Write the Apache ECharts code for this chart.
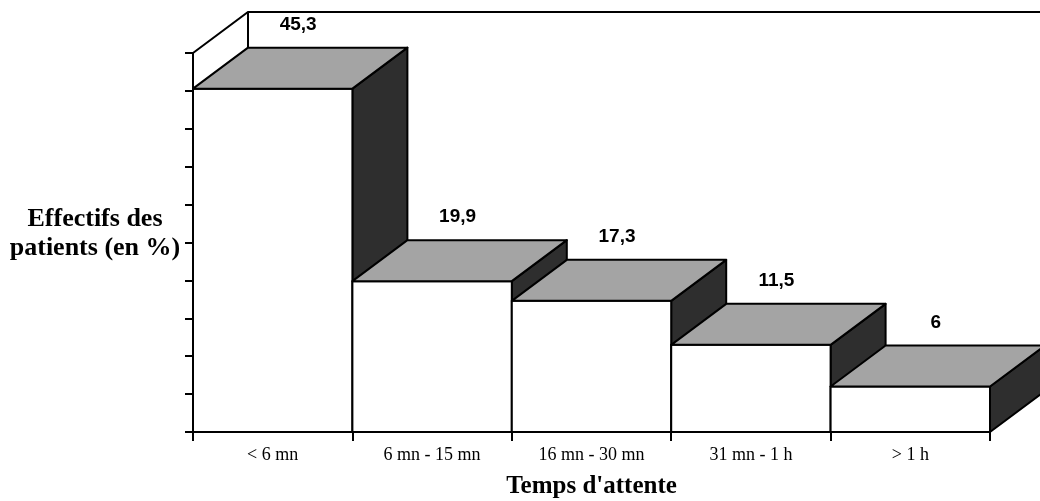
<!DOCTYPE html>
<html>
<head>
<meta charset="utf-8">
<script src="https://cdn.jsdelivr.net/npm/echarts@6/dist/echarts.min.js"></script>
<style>html,body{margin:0;padding:0;background:#fff;}#c{width:1040px;height:501px;}</style>
</head>
<body>
<div id="c"></div>
<script>
const categories = ['< 6 mn', '6 mn - 15 mn', '16 mn - 30 mn', '31 mn - 1 h', '> 1 h'];
const values = [45.3, 19.9, 17.3, 11.5, 6];
const yMin = 0, yMax = 50, yInterval = 5;

const DX = 55, DY = -41;
const LINE = '#000';
const TOP_FILL = '#a4a4a4';
const SIDE_FILL = '#2e2e2e';
const SERIF = '"Liberation Serif", "Times New Roman", serif';

const chart = echarts.init(document.getElementById('c'), null, {renderer: 'canvas'});

function renderBar(params, api) {
  const idx = api.value(0), val = api.value(1);
  const c = api.coord([idx, val]);
  const base = api.coord([idx, 0]);
  const w = api.size([1, 0])[0];
  const x0 = c[0] - w / 2, x1 = c[0] + w / 2;
  const yT = c[1], yB = base[1];
  const st = {stroke: LINE, lineWidth: 2, lineJoin: 'round'};
  return {
    type: 'group',
    children: [
      {type: 'polygon', shape: {points: [[x1, yT], [x1 + DX, yT + DY], [x1 + DX, yB + DY], [x1, yB]]},
       style: Object.assign({fill: SIDE_FILL}, st)},
      {type: 'rect', shape: {x: x0, y: yT, width: w, height: yB - yT},
       style: Object.assign({fill: '#fff'}, st)},
      {type: 'polygon', shape: {points: [[x0, yT], [x1, yT], [x1 + DX, yT + DY], [x0 + DX, yT + DY]]},
       style: Object.assign({fill: TOP_FILL}, st)},
      {type: 'text', x: c[0] + DX / 2 - 2, y: yT + DY - 23,
       style: {text: String(val).replace('.', ','), fill: '#000', font: 'bold 19px "Liberation Sans", Arial, sans-serif',
               align: 'center', verticalAlign: 'middle'}}
    ]
  };
}

function renderWalls(params, api) {
  const cs = params.coordSys;
  const x = cs.x, y = cs.y, w = cs.width, h = cs.height;
  const st = {stroke: LINE, lineWidth: 2, fill: null};
  return {
    type: 'group',
    children: [
      {type: 'polyline', shape: {points: [[x, y], [x + DX, y + DY], [x + w + DX, y + DY]]}, style: st},
      {type: 'line', shape: {x1: x + DX, y1: y + DY, x2: x + DX, y2: y + h + DY}, style: st}
    ]
  };
}

chart.setOption({
  backgroundColor: '#fff',
  animation: false,
  grid: {left: 193, right: 50, top: 53, bottom: 69, outerBoundsMode: 'none', containLabel: false},
  xAxis: {
    type: 'category',
    data: categories,
    boundaryGap: true,
    name: "Temps d'attente",
    nameLocation: 'middle',
    nameGap: 42,
    nameTextStyle: {fontFamily: SERIF, fontWeight: 'bold', fontSize: 25, color: '#000'},
    axisLine: {show: true, lineStyle: {color: '#000', width: 2}},
    axisTick: {show: true, inside: false, length: 9, lineStyle: {color: '#000', width: 2}},
    axisLabel: {color: '#000', fontFamily: SERIF, fontSize: 18, margin: 14},
    splitLine: {show: false}
  },
  yAxis: {
    type: 'value',
    min: yMin, max: yMax, interval: yInterval,
    axisLine: {show: true, lineStyle: {color: '#000', width: 2}},
    axisTick: {show: true, inside: false, length: 8, lineStyle: {color: '#000', width: 2}},
    axisLabel: {show: false},
    splitLine: {show: false}
  },
  graphic: [
    {type: 'text', x: 95, y: 205, style: {text: 'Effectifs des\npatients (en %)',
      align: 'center', verticalAlign: 'top', font: 'bold 26px ' + SERIF, fill: '#000', lineHeight: 29}}
  ],
  series: [
    {type: 'custom', z: 1, renderItem: renderWalls, data: [[0, 0]], silent: true, clip: false},
    {type: 'custom', z: 2, renderItem: renderBar, clip: false,
     data: values.map((v, i) => [i, v])}
  ]
});
</script>
</body>
</html>
